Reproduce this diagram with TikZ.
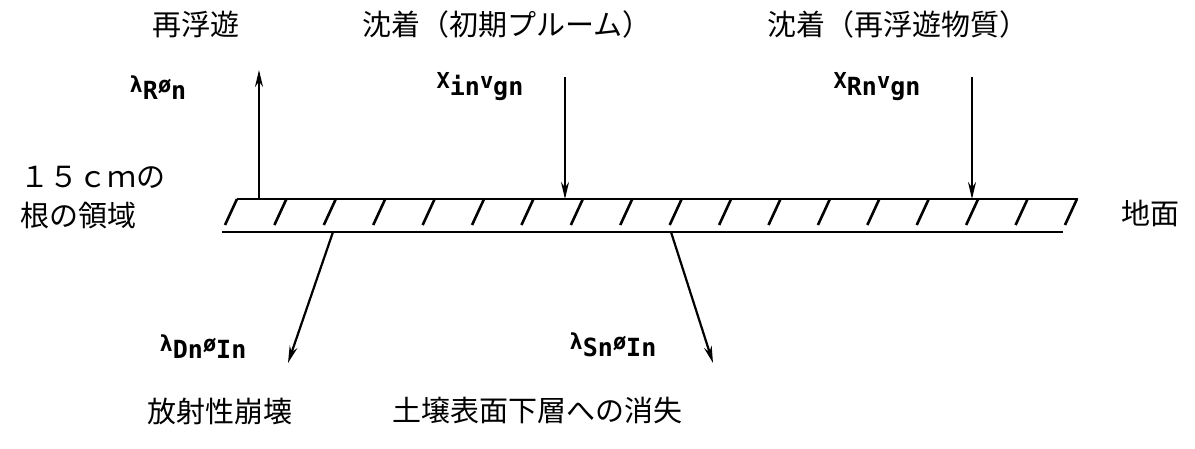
\documentclass[tikz,border=0pt]{standalone}
\usepackage{fontspec}
\newfontfamily\jp{Noto Sans CJK JP}
\newfontfamily\mono{DejaVu Sans Mono}
\usetikzlibrary{arrows.meta}
\newcommand\rhi[1]{\raisebox{7pt}{\fontsize{22}{24}\selectfont #1}}
\begin{document}
\begin{tikzpicture}[x=1pt,y=-1pt,
  jtext/.style={font=\jp\fontsize{29}{34}\selectfont, inner sep=0pt},
  ftext/.style={font=\mono\bfseries\fontsize{25}{30}\selectfont, inner sep=0pt},
  ground/.style={line width=2.6pt},
  flux/.style={line width=2.2pt, -{Stealth[length=17pt,width=8pt]}}]
\useasboundingbox (0,0) rectangle (1195,449);
% ground band
\coordinate (tl) at (237,199);
\coordinate (tr) at (1078,199);
\coordinate (bl) at (222,232);
\coordinate (br) at (1063,232);
\draw[ground] (tl) -- (tr);
\draw[ground] (bl) -- (br);
\foreach \i in {0,...,17} \draw[ground] (237+\i*49.41,199) -- ++(-12,26);
% flux arrows
\coordinate (rs0) at (259,199);
\coordinate (rs1) at (259,70);
\coordinate (da0) at (565,77);
\coordinate (da1) at (565,199);
\coordinate (db0) at (972,77);
\coordinate (db1) at (972,199);
\coordinate (dc0) at (333,232);
\coordinate (dc1) at (288,363);
\coordinate (sl0) at (671,232);
\coordinate (sl1) at (713,363);
\draw[flux] (rs0) -- (rs1);
\draw[flux] (da0) -- (da1);
\draw[flux] (db0) -- (db1);
\draw[flux] (dc0) -- (dc1);
\draw[flux] (sl0) -- (sl1);
% Japanese labels
\node[jtext] (resus) at (196,24) {再浮遊};
\node[jtext] (depi) at (507,24) {沈着（初期プルーム）};
\node[jtext] (depr) at (898,24) {沈着（再浮遊物質）};
\node[jtext, anchor=west] (root1) at (20,177) {１５ｃｍの};
\node[jtext, anchor=west] (root2) at (20,216) {根の領域};
\node[jtext] (surf) at (1150,213) {地面};
\node[jtext] (decay) at (220,412) {放射性崩壊};
\node[jtext] (loss) at (537,410) {土壌表面下層への消失};
% formula labels
\node[ftext] (fR) at (158,88) {\rhi{λ}R\rhi{ø}n};
\node[ftext] (fI) at (480,87) {\rhi{X}in\rhi{v}gn};
\node[ftext] (fRn) at (877,87) {\rhi{X}Rn\rhi{v}gn};
\node[ftext] (fD) at (203,347) {\rhi{λ}Dn\rhi{ø}In};
\node[ftext] (fS) at (613,345) {\rhi{λ}Sn\rhi{ø}In};
\end{tikzpicture}
\end{document}
